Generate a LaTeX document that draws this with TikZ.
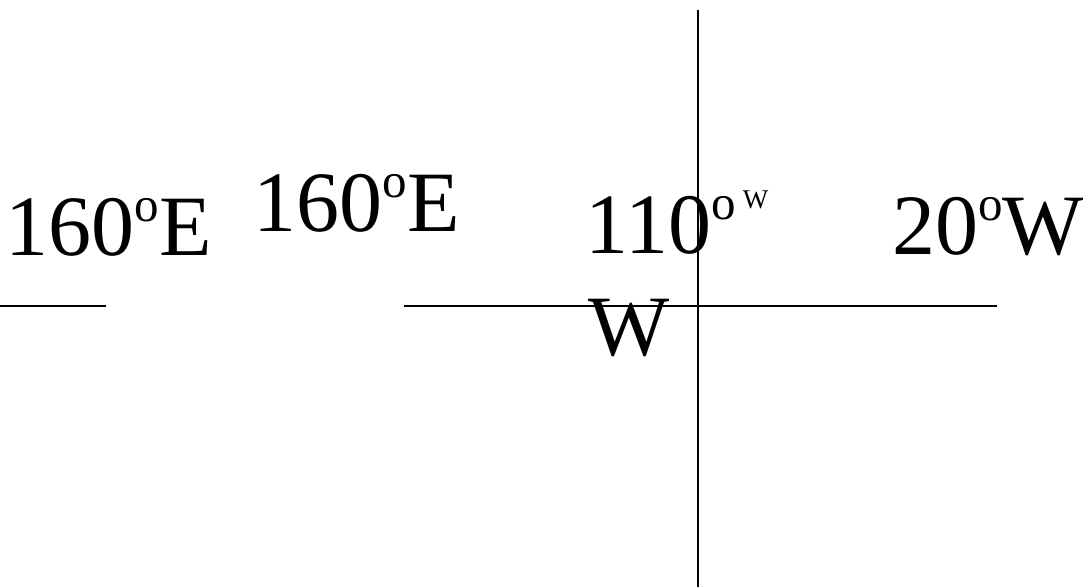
\documentclass[tikz,border=0pt]{standalone}
\usepackage{fontspec}
\setmainfont{Liberation Serif}
\newcommand{\bigfont}{\fontsize{86}{86}\selectfont}
\newcommand{\ordo}{\raisebox{34pt}{\fontsize{49}{49}\selectfont o}}
\begin{document}
\begin{tikzpicture}[x=1pt,y=-1pt,
  lbl/.style={inner sep=0pt,outer sep=0pt,anchor=base west,font=\bigfont},
  rule/.style={line width=1.4pt,black}]
\useasboundingbox (0,0) rectangle (1087,587);
\node[lbl] (a) at (5.5,255) {160\ordo E};
\node[lbl] (b) at (253.5,231) {160\ordo E};
\node[lbl] (c) at (585.5,253) {110\ordo\kern7pt\raisebox{45pt}{\fontsize{27}{27}\selectfont W}};
\node[lbl] (d) at (588,355) {W};
\node[lbl] (e) at (892,254) {20\ordo W};
\coordinate (l1) at (0,306);
\coordinate (l2) at (106,306);
\coordinate (m1) at (404,306);
\coordinate (m2) at (997,306);
\coordinate (v1) at (698,10);
\coordinate (v2) at (698,587);
\draw[rule] (l1) -- (l2);
\draw[rule] (m1) -- (m2);
\draw[rule] (v1) -- (v2);
\end{tikzpicture}
\end{document}
